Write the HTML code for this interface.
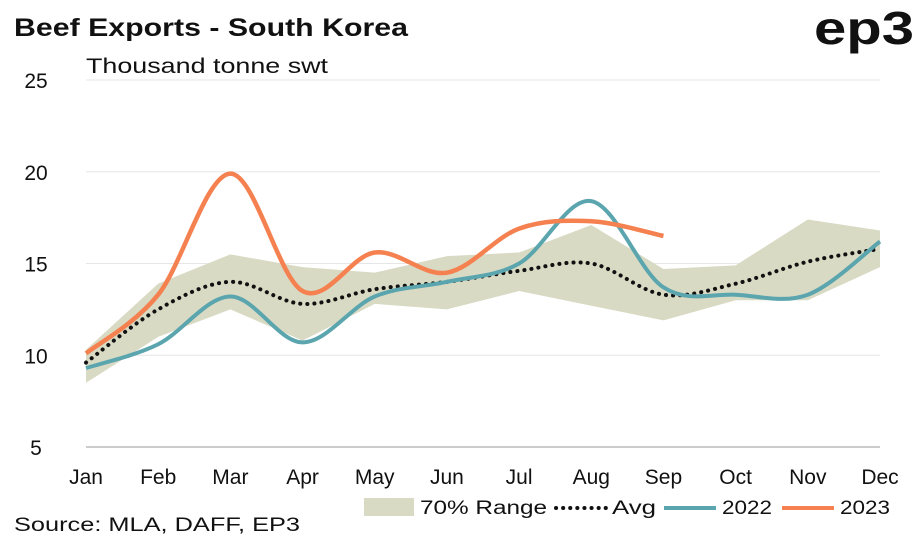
<!DOCTYPE html>
<html><head><meta charset="utf-8"><style>
body{margin:0;background:#fff;width:918px;height:541px;overflow:hidden;font-family:"Liberation Sans",sans-serif}
</style></head><body>
<svg id="c" width="918" height="541">
<text x="14" y="36" font-size="25" font-weight="bold" fill="#111" textLength="394" lengthAdjust="spacingAndGlyphs">Beef Exports - South Korea</text>
<text x="914" y="44" text-anchor="end" font-size="46" font-weight="bold" fill="#111" textLength="100" lengthAdjust="spacingAndGlyphs">ep3</text>
<text x="86" y="73" font-size="21" fill="#111" textLength="242" lengthAdjust="spacingAndGlyphs">Thousand tonne swt</text>
<g id="grid"></g><g id="marks"></g>
<g>
<rect x="364" y="498" width="50" height="18" fill="#d9dac4"/>
<text x="420" y="514" font-size="19" fill="#111" textLength="127" lengthAdjust="spacingAndGlyphs">70% Range</text>
<line x1="556" y1="508" x2="606" y2="508" stroke="#111" stroke-width="4" stroke-dasharray="0.1 7" stroke-linecap="round"/>
<text x="612" y="514" font-size="19" fill="#111" textLength="44" lengthAdjust="spacingAndGlyphs">Avg</text>
<line x1="664" y1="508" x2="716" y2="508" stroke="#5ba5ae" stroke-width="4"/>
<text x="722" y="514" font-size="19" fill="#111" textLength="50" lengthAdjust="spacingAndGlyphs">2022</text>
<line x1="782" y1="508" x2="834" y2="508" stroke="#f4814f" stroke-width="4"/>
<text x="840" y="514" font-size="19" fill="#111" textLength="50" lengthAdjust="spacingAndGlyphs">2023</text>
</g>
<text x="14" y="531" font-size="19" fill="#111" textLength="286" lengthAdjust="spacingAndGlyphs">Source: MLA, DAFF, EP3</text>
</svg>
<script>
const months=["Jan","Feb","Mar","Apr","May","Jun","Jul","Aug","Sep","Oct","Nov","Dec"];
const yTicks=[5,10,15,20,25];
const rangeHigh=[10.3,13.9,15.5,14.8,14.5,15.4,15.6,17.1,14.7,14.9,17.4,16.8];
const rangeLow=[8.5,11.0,12.5,10.8,12.8,12.5,13.5,12.7,11.9,13.0,13.0,14.8];
const avg=[9.6,12.5,14.0,12.8,13.6,14.0,14.6,15.0,13.3,13.9,15.1,15.8];
const s2022=[9.3,10.6,13.2,10.7,13.2,14.0,15.0,18.4,13.7,13.3,13.3,16.2];
const s2023=[10.1,13.3,19.9,13.5,15.6,14.5,16.9,17.3,16.5];
const NS="http://www.w3.org/2000/svg";
const x=i=>86+i*(880-86)/11;
const y=v=>447-(v-5)*(447-80)/20;
function mk(t,a,p){const e=document.createElementNS(NS,t);for(const k in a)e.setAttribute(k,a[k]);p.appendChild(e);return e;}
const grid=document.getElementById('grid'),marks=document.getElementById('marks');
yTicks.forEach(t=>{
 const l=mk('line',{x1:86,x2:880,y1:y(t),y2:y(t),stroke:t===5?'#999':'#e6e6e6','stroke-width':1},grid);
 
 
 const tx=mk('text',{x:36,y:y(t)+8,'text-anchor':'middle','font-size':21,fill:'#111'},grid);tx.textContent=t;
 
 
});
months.forEach((m,i)=>{
 const tx=mk('text',{x:x(i),y:484,'text-anchor':'middle','font-size':21,fill:'#111'},grid);tx.textContent=m;
 
 
});
function smooth(vals){
 const p=vals.map((v,i)=>[x(i),y(v)]);let d='M'+p[0][0]+','+p[0][1];
 for(let i=0;i<p.length-1;i++){const p0=p[i-1]||p[i],p1=p[i],p2=p[i+1],p3=p[i+2]||p2;
  d+=` C${p1[0]+(p2[0]-p0[0])/6},${p1[1]+(p2[1]-p0[1])/6} ${p2[0]-(p3[0]-p1[0])/6},${p2[1]-(p3[1]-p1[1])/6} ${p2[0]},${p2[1]}`;}
 return d;}
let pts=rangeHigh.map((v,i)=>x(i)+','+y(v)).concat(rangeLow.map((v,i)=>x(i)+','+y(v)).reverse());
const area=mk('polygon',{points:pts.join(' '),fill:'#d9dac4'},marks);


const a=mk('path',{d:smooth(avg),fill:'none',stroke:'#111','stroke-width':4,'stroke-dasharray':'0.1 7','stroke-linecap':'round'},marks);


const l22=mk('path',{d:smooth(s2022),fill:'none',stroke:'#5ba5ae','stroke-width':4},marks);


const l23=mk('path',{d:smooth(s2023),fill:'none',stroke:'#f4814f','stroke-width':4.5},marks);


</script>
</body></html>
